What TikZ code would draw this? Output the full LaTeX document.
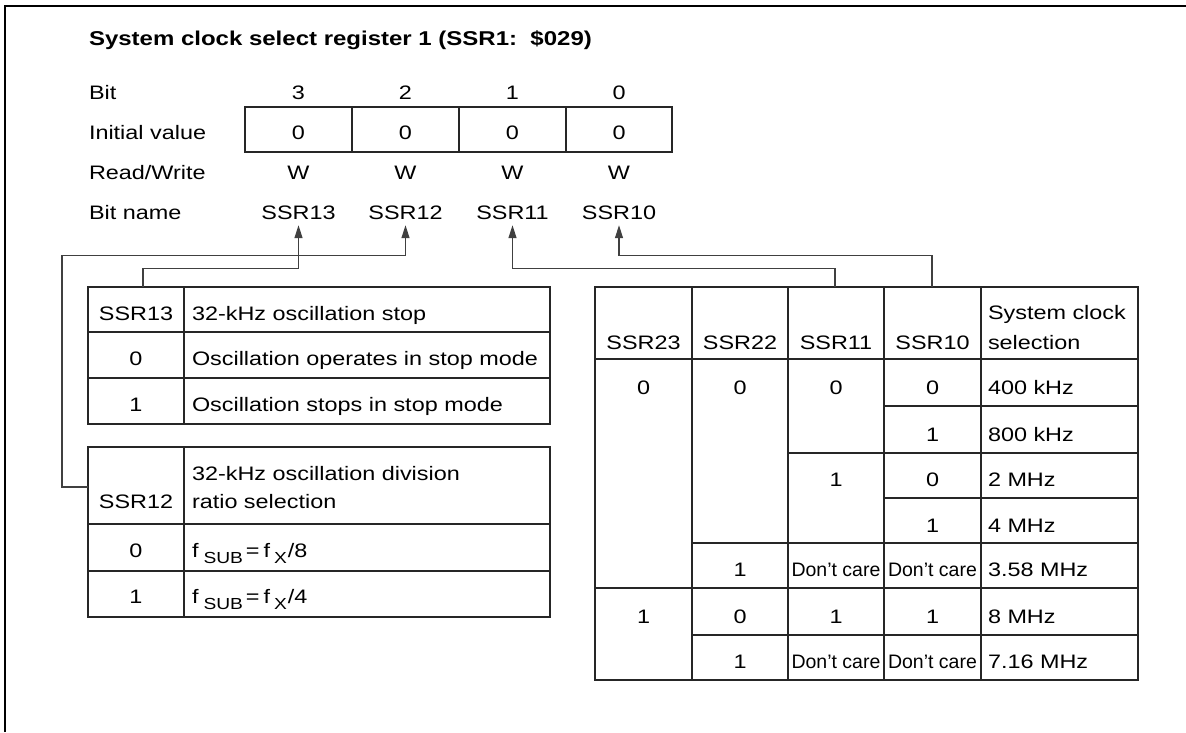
\documentclass[tikz,border=0pt]{standalone}
\usepackage{fontspec}
\setmainfont[FakeStretch=1.2]{Liberation Sans}
\newfontfamily\dcfont{Liberation Sans}
\usetikzlibrary{arrows.meta}
\newcommand\mysub[1]{\raisebox{-6pt}{\fontsize{16}{16}\selectfont #1}}
\newcommand\dc{{\dcfont Don’t care}}
\begin{document}
\begin{tikzpicture}[x=1pt,y=-1pt,
  every node/.style={inner sep=0pt, outer sep=0pt, font=\fontsize{19.5}{23}\selectfont},
  tx/.style={anchor=base},
  lt/.style={anchor=base west},
  tbl/.style={draw=black!85, line width=1.2pt, anchor=north west, inner sep=0pt, outer sep=0pt},
  rule/.style={draw=black!85, line width=1.2pt},
  conn/.style={draw=black!75, line width=1.2pt},
  tip/.style={-{Triangle[length=13pt,width=8pt]}, shorten >=6pt}]
\useasboundingbox (0,0) rectangle (1186,732);
% frame
\draw[line width=1.5pt] (5,732) -- (5,6) -- (1186,6);
% title
\node[lt, font=\bfseries\fontsize{20}{24}\selectfont] (title) at (89,45) {System clock select register 1 (SSR1:\ \ \$029)};
% row labels
\node[lt] (lbit) at (89,99) {Bit};
\node[lt] (linit) at (89,139) {Initial value};
\node[lt] (lrw) at (89,179) {Read/Write};
\node[lt] (lname) at (89,219) {Bit name};
% register box
\node[tbl, minimum width=427pt, minimum height=45pt] (reg) at (245,107) {};
\draw[rule] (352,107) -- (352,152) (459,107) -- (459,152) (566,107) -- (566,152);
\foreach \x/\b/\n in {298.5/3/SSR13, 405.5/2/SSR12, 512.5/1/SSR11, 619/0/SSR10}{
  \node[tx] (bit\b) at (\x,99) {\b};
  \node[tx] (iv\b) at (\x,139) {0};
  \node[tx] (rw\b) at (\x,179) {W};
  \node[tx] (bn\b) at (\x,219) {\n};
}
% left table A
\node[tbl, minimum width=462pt, minimum height=137pt] (tA) at (88,287) {};
\draw[rule] (184,287) -- (184,424) (88,332) -- (550,332) (88,378) -- (550,378);
\node[tx] (a1) at (136,320) {SSR13};
\node[lt] (a2) at (192,320) {32-kHz oscillation stop};
\node[tx] (a3) at (136,365) {0};
\node[lt] (a4) at (192,365) {Oscillation operates in stop mode};
\node[tx] (a5) at (136,411) {1};
\node[lt] (a6) at (192,411) {Oscillation stops in stop mode};
% left table B
\node[tbl, minimum width=462pt, minimum height=170pt] (tB) at (88,447) {};
\draw[rule] (184,447) -- (184,617) (88,524) -- (550,524) (88,571) -- (550,571);
\node[lt] (b1) at (192,480) {32-kHz oscillation division};
\node[lt] (b2) at (192,508) {ratio selection};
\node[tx] (b3) at (136,508) {SSR12};
\node[tx] (b4) at (136,557) {0};
\node[lt] (b5) at (192,557) {f\hspace{5pt}\mysub{SUB}\hspace{3pt}=\hspace{4pt}f\hspace{4pt}\mysub{X}\hspace{1pt}/8};
\node[tx] (b6) at (136,603) {1};
\node[lt] (b7) at (192,603) {f\hspace{5pt}\mysub{SUB}\hspace{3pt}=\hspace{4pt}f\hspace{4pt}\mysub{X}\hspace{1pt}/4};
% right table C
\node[tbl, minimum width=543pt, minimum height=393pt] (tC) at (595,287) {};
\draw[rule] (692,287) -- (692,680) (788,287) -- (788,680) (884,287) -- (884,680) (981,287) -- (981,680);
\draw[rule] (595,359) -- (1138,359) (884,406) -- (1138,406) (788,453) -- (1138,453)
  (884,498) -- (1138,498) (692,543) -- (1138,543) (595,588) -- (1138,588) (692,635) -- (1138,635);
\node[tx] (h1) at (643.5,349) {SSR23};
\node[tx] (h2) at (740,349) {SSR22};
\node[tx] (h3) at (836,349) {SSR11};
\node[tx] (h4) at (932.5,349) {SSR10};
\node[lt] (h5) at (988,319) {System clock};
\node[lt] (h6) at (988,349) {selection};
% row 1
\node[tx] (c11) at (643.5,394) {0};
\node[tx] (c12) at (740,394) {0};
\node[tx] (c13) at (836,394) {0};
\node[tx] (c14) at (932.5,394) {0};
\node[lt] (c15) at (988,394) {400 kHz};
% row 2
\node[tx] (c24) at (932.5,441) {1};
\node[lt] (c25) at (988,441) {800 kHz};
% row 3
\node[tx] (c33) at (836,486) {1};
\node[tx] (c34) at (932.5,486) {0};
\node[lt] (c35) at (988,486) {2 MHz};
% row 4
\node[tx] (c44) at (932.5,532) {1};
\node[lt] (c45) at (988,532) {4 MHz};
% row 5
\node[tx] (c52) at (740,576) {1};
\node[tx] (c53) at (836,576) {\dc};
\node[tx] (c54) at (932.5,576) {\dc};
\node[lt] (c55) at (988,576) {3.58 MHz};
% row 6
\node[tx] (c61) at (643.5,623) {1};
\node[tx] (c62) at (740,623) {0};
\node[tx] (c63) at (836,623) {1};
\node[tx] (c64) at (932.5,623) {1};
\node[lt] (c65) at (988,623) {8 MHz};
% row 7
\node[tx] (c72) at (740,668) {1};
\node[tx] (c73) at (836,668) {\dc};
\node[tx] (c74) at (932.5,668) {\dc};
\node[lt] (c75) at (988,668) {7.16 MHz};
% connector anchors on tables
\coordinate (t13) at (143,287);
\coordinate (t12) at (88,487);
\coordinate (t11) at (835,287);
\coordinate (t10) at (932,287);
% connectors
\draw[conn, tip] (t13) |- ([yshift=-49pt]bn3.south) -- (bn3.south);
\draw[conn, tip] (t12) -- ++(-26,0) |- ([yshift=-36pt]bn2.south) -- (bn2.south);
\draw[conn, tip] (t11) |- ([yshift=-49pt]bn1.south) -- (bn1.south);
\draw[conn, tip] (t10) |- ([yshift=-36pt]bn0.south) -- (bn0.south);
\end{tikzpicture}
\end{document}
